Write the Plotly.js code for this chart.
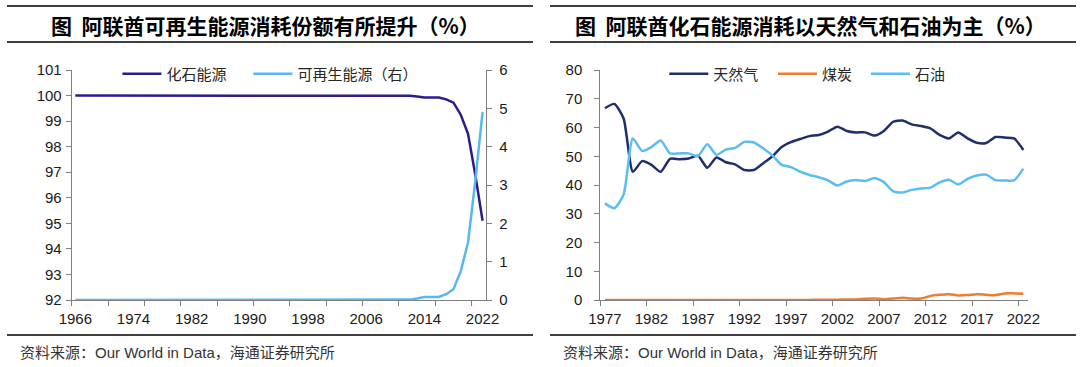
<!DOCTYPE html>
<html>
<head>
<meta charset="utf-8">
<script src="https://cdn.plot.ly/plotly-3.0.1.min.js"></script>
<style>
html,body{margin:0;padding:0;background:#fff;}
#chart{width:1080px;height:367px;}
</style>
</head>
<body>
<div id="chart"></div>
<script>
// ---------- Left chart data ----------
var leftTitle = "图  阿联酋可再生能源消耗份额有所提升（%）";
var leftYears = [];
for (var y = 1966; y <= 2022; y++) leftYears.push(y);
var fossilName = "化石能源";
var renewName = "可再生能源（右）";
// 1966-2011 all 100, then the decline
var fossilShare = [
  100,100,100,100,100,100,100,100,100,100,   // 1966-1975
  100,100,100,100,100,100,100,100,100,100,   // 1976-1985
  100,100,100,100,100,100,100,100,100,100,   // 1986-1995
  100,100,100,100,100,100,100,100,100,100,   // 1996-2005
  100,100,100,100,100,100,                   // 2006-2011
  99.99,99.96,99.92,99.92,99.92,99.85,99.72,99.25,98.5,96.9,95.1 // 2012-2022
];
var renewShare = [
  0,0,0,0,0,0,0,0,0,0,
  0,0,0,0,0,0,0,0,0,0,
  0,0,0,0,0,0,0,0,0,0,
  0,0,0,0,0,0,0,0,0,0,
  0,0,0,0,0,0,
  0.01,0.04,0.08,0.08,0.08,0.15,0.28,0.75,1.5,3.1,4.9
];
var leftTickYears = [1966,1974,1982,1990,1998,2006,2014,2022];

// ---------- Right chart data ----------
var rightTitle = "图  阿联酋化石能源消耗以天然气和石油为主（%）";
var rightYears = [];
for (var y2 = 1977; y2 <= 2022; y2++) rightYears.push(y2);
var gasName = "天然气", coalName = "煤炭", oilName = "石油";
var gasShare = [
  66.7,68.2,63.2,44.6,48.3,47.0,44.6,49.1,49.0,49.2,   // 1977-1986
  50.2,46.0,49.6,47.9,47.2,45.2,45.2,47.5,49.9,53.2,   // 1987-1996
  54.9,56.0,57.0,57.4,58.6,60.3,58.8,58.3,58.3,57.2,   // 1997-2006
  58.8,62.0,62.4,61.1,60.5,59.7,57.4,56.2,58.3,56.2,   // 2007-2016
  54.7,54.6,56.7,56.5,56.2,52.2                        // 2017-2022
];
var coalShare = [
  0,0,0,0,0,0,0,0,0,0,
  0,0,0,0,0,0,0,0,0,0,
  0,0,0,0.1,0.1,0.1,0.2,0.2,0.4,0.5,
  0.3,0.5,0.8,0.5,0.5,1.4,1.8,2.0,1.6,1.7,
  2.0,1.8,1.7,2.3,2.3,2.2
];
var oilShare = [
  33.6,31.9,36.6,56.2,51.8,53.2,55.5,51.0,51.0,51.0,   // 1977-1986
  50.0,54.2,50.5,52.3,52.9,55.0,54.8,52.8,50.3,47.0,   // 1987-1996
  46.2,44.6,43.5,42.7,41.6,39.8,41.2,41.7,41.4,42.4,   // 1997-2006
  41.0,37.8,37.4,38.3,38.8,39.1,40.9,41.8,40.2,42.1,   // 2007-2016
  43.3,43.6,41.7,41.6,41.6,45.7                        // 2017-2022
];
var rightTickYears = [1977,1982,1987,1992,1997,2002,2007,2012,2017,2022];

var sourceText = "资料来源：Our World in Data，海通证券研究所";

// ---------- Styling ----------
var W = 1080, H = 367;
function px(x){ return x / W; }
function py(y){ return 1 - y / H; }

var cFossil = "#2b1c8c", cRenew = "#56b8ef";
var cGas = "#1f2f6a", cCoal = "#ed7d31", cOil = "#5bbdf1";
var tickFont = {family: "Liberation Sans, Arial, sans-serif", size: 15, color: "#1a1a1a"};
var legFont = {family: "Noto Sans CJK SC, sans-serif", size: 15, color: "#262626"};
var axisColor = "#7f7f7f";

var plotTop = 70, plotBottom = 300;

function legendAt(lineStartX){
  return {
    orientation: "h", x: px(lineStartX - 5), xanchor: "left",
    y: py(74), yanchor: "middle", bgcolor: "rgba(0,0,0,0)",
    font: legFont, itemwidth: 39, borderwidth: 0, tracegroupgap: 0
  };
}

var traces = [
  {x: leftYears, y: fossilShare, name: fossilName, type: "scatter", mode: "lines",
   line: {color: cFossil, width: 2.5}, xaxis: "x", yaxis: "y", legend: "legend"},
  {x: leftYears, y: renewShare, name: renewName, type: "scatter", mode: "lines",
   line: {color: cRenew, width: 2.5}, xaxis: "x", yaxis: "y2", legend: "legend2"},
  {x: rightYears, y: gasShare, name: gasName, type: "scatter", mode: "lines",
   line: {color: cGas, width: 2.5, shape: "spline", smoothing: 0.6}, xaxis: "x2", yaxis: "y3", legend: "legend3"},
  {x: rightYears, y: coalShare, name: coalName, type: "scatter", mode: "lines",
   line: {color: cCoal, width: 2.5, shape: "spline", smoothing: 0.6}, xaxis: "x2", yaxis: "y3", legend: "legend4"},
  {x: rightYears, y: oilShare, name: oilName, type: "scatter", mode: "lines",
   line: {color: cOil, width: 2.5, shape: "spline", smoothing: 0.6}, xaxis: "x2", yaxis: "y3", legend: "legend5"}
];

var leftX0 = 71.7, leftX1 = 486.2;
var rightX0 = 600.3, rightX1 = 1028;

function xAxisDef(domain, range, tickvals, tick0){
  return {
    domain: domain, range: range, type: "linear", fixedrange: true,
    tickmode: "array", tickvals: tickvals, ticktext: tickvals.map(String),
    ticks: "", ticklabelstandoff: 5, tickfont: tickFont,
    showgrid: false, zeroline: false,
    showline: true, linecolor: axisColor, linewidth: 1,
    minor: {ticks: "outside", tick0: tick0, dtick: 5, ticklen: 5, tickcolor: axisColor, tickwidth: 1, showgrid: false}
  };
}

var layout = {
  width: W, height: H,
  margin: {l: 0, r: 0, t: 0, b: 0, pad: 0},
  paper_bgcolor: "#fff", plot_bgcolor: "rgba(0,0,0,0)",
  showlegend: true,
  font: {family: "Liberation Sans, Noto Sans CJK SC, sans-serif", color: "#1a1a1a"},
  xaxis: xAxisDef([px(leftX0), px(leftX1)], [1965.5, 2022.5], leftTickYears, 1965.5),
  yaxis: {
    domain: [py(plotBottom), py(plotTop)], range: [92, 101], dtick: 1, tick0: 92,
    ticks: "outside", ticklen: 5, tickcolor: axisColor, tickfont: tickFont,
    showgrid: false, zeroline: false, showline: true, linecolor: axisColor, linewidth: 1,
    anchor: "x", fixedrange: true, ticklabelstandoff: 1
  },
  yaxis2: {
    overlaying: "y", side: "right", anchor: "x", range: [0, 6], dtick: 1, tick0: 0,
    ticks: "outside", ticklen: 5, tickcolor: axisColor, tickfont: tickFont,
    showgrid: false, zeroline: false, showline: true, linecolor: axisColor, linewidth: 1,
    fixedrange: true, ticklabelstandoff: 4
  },
  xaxis2: xAxisDef([px(rightX0), px(rightX1)], [1976.5, 2022.5], rightTickYears, 1976.5),
  yaxis3: {
    domain: [py(plotBottom), py(plotTop)], range: [0, 80], dtick: 10, tick0: 0,
    ticks: "outside", ticklen: 5, tickcolor: axisColor, tickfont: tickFont,
    showgrid: false, zeroline: false, showline: true, linecolor: axisColor, linewidth: 1,
    anchor: "x2", fixedrange: true, ticklabelstandoff: 9
  },
  legend: legendAt(122.4),
  legend2: legendAt(253.4),
  legend3: legendAt(669.3),
  legend4: legendAt(778),
  legend5: legendAt(871),
  shapes: [
    // left panel rules
    {type: "line", xref: "paper", yref: "paper", x0: px(7), x1: px(533), y0: py(6), y1: py(6), line: {color: "#000", width: 1.5}},
    {type: "line", xref: "paper", yref: "paper", x0: px(7), x1: px(533), y0: py(42), y1: py(42), line: {color: "#000", width: 1.5}},
    {type: "line", xref: "paper", yref: "paper", x0: px(7), x1: px(533), y0: py(335), y1: py(335), line: {color: "#000", width: 1.5}},
    // right panel rules
    {type: "line", xref: "paper", yref: "paper", x0: px(550), x1: px(1076), y0: py(6), y1: py(6), line: {color: "#000", width: 1.5}},
    {type: "line", xref: "paper", yref: "paper", x0: px(550), x1: px(1076), y0: py(42), y1: py(42), line: {color: "#000", width: 1.5}},
    {type: "line", xref: "paper", yref: "paper", x0: px(550), x1: px(1076), y0: py(335), y1: py(335), line: {color: "#000", width: 1.5}}
  ],
  annotations: [
    {text: "<b>" + leftTitle + "</b>", xref: "paper", yref: "paper", x: px(265), y: py(25),
     xanchor: "center", yanchor: "middle", showarrow: false,
     font: {family: "Noto Sans CJK SC, sans-serif", size: 21, color: "#000"}},
    {text: "<b>" + rightTitle + "</b>", xref: "paper", yref: "paper", x: px(810), y: py(25),
     xanchor: "center", yanchor: "middle", showarrow: false,
     font: {family: "Noto Sans CJK SC, sans-serif", size: 21, color: "#000"}},
    {text: sourceText, xref: "paper", yref: "paper", x: px(18), y: py(352),
     xanchor: "left", yanchor: "middle", showarrow: false,
     font: {family: "Liberation Sans, Noto Sans CJK SC, sans-serif", size: 15, color: "#333"}},
    {text: sourceText, xref: "paper", yref: "paper", x: px(561), y: py(352),
     xanchor: "left", yanchor: "middle", showarrow: false,
     font: {family: "Liberation Sans, Noto Sans CJK SC, sans-serif", size: 15, color: "#333"}}
  ]
};

Plotly.newPlot("chart", traces, layout, {displayModeBar: false, staticPlot: true});
</script>
</body>
</html>
